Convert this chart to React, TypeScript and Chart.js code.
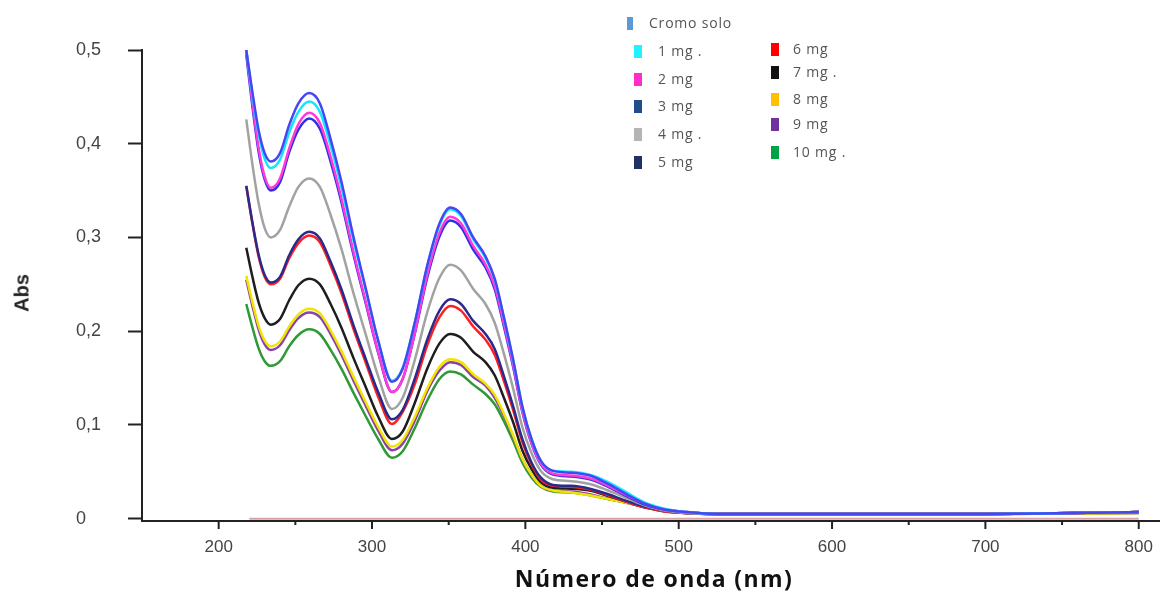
import React, { useEffect, useRef } from "react";
import { Chart, registerables } from "chart.js";

Chart.register(...registerables);

// Wavelength (nm) at which every series is sampled
const WAVELENGTHS = [218, 222, 226, 230, 234, 240, 246, 252, 259, 266, 273, 280, 288, 296, 304, 313, 320, 328, 336, 344, 351, 358, 366, 374, 380, 386, 392, 398, 404, 410, 418, 430, 442, 454, 466, 478, 490, 505, 525, 600, 700, 800];

const SERIES_LABELS = ["Cromo solo", "1 mg .", "2 mg", "3 mg", "4 mg .", "5 mg", "6 mg", "7 mg .", "8 mg", "9 mg", "10 mg ."];

const CROMO_SOLO = [0.500, 0.455, 0.415, 0.390, 0.381, 0.390, 0.420, 0.443, 0.454, 0.443, 0.405, 0.360, 0.300, 0.245, 0.190, 0.146, 0.160, 0.210, 0.270, 0.315, 0.332, 0.325, 0.300, 0.280, 0.256, 0.215, 0.170, 0.120, 0.085, 0.062, 0.051, 0.049, 0.046, 0.037, 0.026, 0.016, 0.010, 0.007, 0.005, 0.005, 0.005, 0.007];
const MG_1 = [0.500, 0.452, 0.411, 0.384, 0.374, 0.383, 0.412, 0.434, 0.445, 0.434, 0.398, 0.354, 0.296, 0.243, 0.190, 0.147, 0.161, 0.210, 0.269, 0.313, 0.330, 0.323, 0.298, 0.278, 0.255, 0.214, 0.169, 0.120, 0.085, 0.062, 0.051, 0.050, 0.047, 0.039, 0.028, 0.017, 0.011, 0.007, 0.005, 0.005, 0.005, 0.007];
const MG_2 = [0.500, 0.444, 0.396, 0.365, 0.353, 0.363, 0.395, 0.421, 0.433, 0.422, 0.386, 0.342, 0.284, 0.231, 0.178, 0.135, 0.149, 0.199, 0.260, 0.305, 0.322, 0.315, 0.291, 0.271, 0.248, 0.208, 0.164, 0.115, 0.081, 0.059, 0.048, 0.046, 0.043, 0.035, 0.025, 0.016, 0.010, 0.007, 0.005, 0.005, 0.005, 0.007];
const MG_3 = [0.495, 0.440, 0.392, 0.362, 0.350, 0.359, 0.391, 0.415, 0.427, 0.416, 0.381, 0.338, 0.281, 0.229, 0.177, 0.135, 0.149, 0.198, 0.257, 0.301, 0.318, 0.311, 0.287, 0.268, 0.245, 0.205, 0.162, 0.114, 0.080, 0.058, 0.047, 0.045, 0.042, 0.034, 0.024, 0.015, 0.010, 0.007, 0.005, 0.005, 0.005, 0.007];
const MG_4 = [0.426, 0.378, 0.337, 0.310, 0.300, 0.308, 0.333, 0.354, 0.363, 0.354, 0.324, 0.288, 0.240, 0.196, 0.152, 0.117, 0.129, 0.170, 0.220, 0.257, 0.271, 0.265, 0.245, 0.229, 0.209, 0.176, 0.139, 0.098, 0.070, 0.051, 0.042, 0.040, 0.037, 0.030, 0.022, 0.014, 0.009, 0.006, 0.005, 0.005, 0.005, 0.007];
const MG_5 = [0.355, 0.316, 0.282, 0.260, 0.252, 0.258, 0.281, 0.298, 0.306, 0.299, 0.274, 0.245, 0.206, 0.170, 0.135, 0.106, 0.116, 0.150, 0.191, 0.222, 0.234, 0.229, 0.211, 0.197, 0.181, 0.152, 0.120, 0.085, 0.060, 0.044, 0.036, 0.035, 0.032, 0.026, 0.019, 0.013, 0.009, 0.006, 0.005, 0.005, 0.005, 0.007];
const MG_6 = [0.355, 0.315, 0.280, 0.258, 0.250, 0.256, 0.278, 0.294, 0.302, 0.295, 0.270, 0.241, 0.202, 0.166, 0.130, 0.101, 0.114, 0.144, 0.185, 0.215, 0.227, 0.222, 0.205, 0.191, 0.175, 0.147, 0.116, 0.082, 0.058, 0.042, 0.035, 0.034, 0.031, 0.025, 0.018, 0.012, 0.008, 0.006, 0.005, 0.005, 0.005, 0.007];
const MG_7 = [0.289, 0.258, 0.231, 0.214, 0.207, 0.213, 0.233, 0.249, 0.256, 0.250, 0.229, 0.204, 0.171, 0.140, 0.109, 0.085, 0.093, 0.124, 0.160, 0.187, 0.197, 0.193, 0.178, 0.167, 0.153, 0.129, 0.103, 0.073, 0.053, 0.039, 0.033, 0.032, 0.030, 0.024, 0.018, 0.012, 0.008, 0.006, 0.005, 0.005, 0.005, 0.007];
const MG_8 = [0.259, 0.231, 0.206, 0.190, 0.184, 0.189, 0.205, 0.218, 0.224, 0.219, 0.201, 0.179, 0.151, 0.124, 0.098, 0.077, 0.084, 0.109, 0.139, 0.162, 0.170, 0.167, 0.154, 0.144, 0.132, 0.112, 0.089, 0.064, 0.047, 0.035, 0.030, 0.028, 0.025, 0.021, 0.017, 0.013, 0.009, 0.006, 0.005, 0.005, 0.005, 0.006];
const MG_9 = [0.255, 0.227, 0.202, 0.186, 0.180, 0.185, 0.201, 0.214, 0.220, 0.215, 0.197, 0.175, 0.147, 0.120, 0.094, 0.073, 0.080, 0.105, 0.136, 0.158, 0.167, 0.164, 0.151, 0.142, 0.129, 0.110, 0.088, 0.064, 0.047, 0.035, 0.030, 0.029, 0.026, 0.021, 0.017, 0.012, 0.009, 0.006, 0.005, 0.005, 0.005, 0.006];
const MG_10 = [0.229, 0.204, 0.182, 0.168, 0.163, 0.168, 0.184, 0.196, 0.202, 0.197, 0.180, 0.160, 0.134, 0.109, 0.085, 0.065, 0.072, 0.097, 0.126, 0.149, 0.157, 0.154, 0.143, 0.133, 0.122, 0.104, 0.083, 0.060, 0.044, 0.034, 0.029, 0.028, 0.025, 0.021, 0.017, 0.013, 0.009, 0.006, 0.005, 0.005, 0.005, 0.006];

const LINE_COLORS = ["#4646f2", "#14e6ff", "#ff3ad8", "#2f2fe6", "#a2a2a2", "#2a2a8c", "#ff1f1f", "#1e1e1e", "#f0e400", "#8b42a6", "#2f9a35"];
const LEGEND_COLORS = ["#5b9bd5", "#1ef2ff", "#ff2ecb", "#1f4e8a", "#b4b4b4", "#1f3263", "#ff0000", "#111111", "#ffc000", "#7030a0", "#00a444"];

// baseline trace along zero
const BASELINE_X = [220, 800];
const BASELINE_Y = [0, 0];

const Y_TICKS = [0, 0.1, 0.2, 0.3, 0.4, 0.5];
const X_TICKS = [200, 250, 300, 350, 400, 450, 500, 550, 600, 650, 700, 750, 800];

const X_TITLE = "Número de onda (nm)";
const Y_TITLE = "Abs";

// legend layout (swatch x, center y, text x)
const LEGEND_LAYOUT = [
  { sx: 627, cy: 23, tx: 649, w: 6 },
  { sx: 634, cy: 51, tx: 658, w: 8 },
  { sx: 634, cy: 79, tx: 658, w: 8 },
  { sx: 634, cy: 106, tx: 658, w: 8 },
  { sx: 634, cy: 134, tx: 658, w: 8 },
  { sx: 634, cy: 162, tx: 658, w: 8 },
  { sx: 771, cy: 49, tx: 793, w: 8 },
  { sx: 771, cy: 72, tx: 793, w: 8 },
  { sx: 771, cy: 99, tx: 793, w: 8 },
  { sx: 771, cy: 124, tx: 793, w: 8 },
  { sx: 771, cy: 152, tx: 793, w: 8 },
];

export default function App() {
  const ref = useRef<HTMLCanvasElement>(null);

  useEffect(() => {
    document.body.style.margin = "0";
    const series = [CROMO_SOLO, MG_1, MG_2, MG_3, MG_4, MG_5, MG_6, MG_7, MG_8, MG_9, MG_10];
    const datasets: any[] = series.map((vals, i) => ({
      label: SERIES_LABELS[i],
      data: vals.map((v, j) => ({ x: WAVELENGTHS[j], y: v })),
      borderColor: LINE_COLORS[i],
      backgroundColor: LINE_COLORS[i],
      borderWidth: 2.5,
      pointRadius: 0,
      cubicInterpolationMode: "monotone",
      fill: false,
    }));
    datasets.push({
      label: "base",
      data: BASELINE_X.map((x, j) => ({ x, y: BASELINE_Y[j] })),
      borderColor: "#d9a2a8",
      borderWidth: 2,
      pointRadius: 0,
      clip: false,
    });

    const xTickPlugin = {
      id: "xTickMarks",
      afterDraw(chart: any) {
        const xs = chart.scales.x;
        const ctx = chart.ctx;
        const y0 = chart.chartArea.bottom;
        ctx.save();
        ctx.strokeStyle = "#222";
        ctx.lineWidth = 2;
        X_TICKS.forEach((v) => {
          const px = xs.getPixelForValue(v);
          const len = v % 100 === 0 ? 8 : 4;
          ctx.beginPath();
          ctx.moveTo(px, y0);
          ctx.lineTo(px, y0 + len);
          ctx.stroke();
        });
        ctx.restore();
      },
    };

    const chart = new Chart(ref.current as HTMLCanvasElement, {
      type: "line",
      data: { datasets },
      options: {
        animation: false,
        responsive: false,
        maintainAspectRatio: false,
        layout: { padding: { left: 76, top: 50, right: 4, bottom: 0 } },
        plugins: { legend: { display: false }, tooltip: { enabled: false } },
        scales: {
          x: {
            type: "linear",
            min: 150,
            max: 813.5,
            afterBuildTicks: (s: any) => {
              s.ticks = X_TICKS.map((v) => ({ value: v }));
            },
            afterFit: (s: any) => {
              s.height = 72;
            },
            grid: { drawOnChartArea: false, drawTicks: false },
            border: { color: "#222", width: 2 },
            ticks: {
              autoSkip: false,
              maxRotation: 0,
              padding: 16,
              color: "#444",
              font: { family: "Liberation Sans", size: 17 },
              callback: (v: any) => (Number(v) % 100 === 0 ? String(v) : ""),
            },
          },
          y: {
            min: -0.0025,
            max: 0.5,
            afterBuildTicks: (s: any) => {
              s.ticks = Y_TICKS.map((v) => ({ value: v }));
            },
            afterFit: (s: any) => {
              s.width = 66;
            },
            grid: { drawOnChartArea: false, tickLength: 14, tickWidth: 2, tickColor: "#222" },
            border: { color: "#222", width: 2 },
            ticks: {
              crossAlign: "far",
              color: "#444",
              font: { family: "Liberation Sans", size: 18 },
              callback: (v: any) => (Number(v) === 0 ? "0" : Number(v).toFixed(1).replace(".", ",")),
            },
          },
        },
      } as any,
      plugins: [xTickPlugin],
    });
    return () => chart.destroy();
  }, []);

  return (
    <div style={{ position: "relative", width: 1169, height: 593, background: "#fff", overflow: "hidden" }}>
      <canvas ref={ref} width={1169} height={593} style={{ position: "absolute", left: 0, top: 0, display: "block" }} />
      {SERIES_LABELS.map((label, i) => {
        const p = LEGEND_LAYOUT[i];
        return (
          <React.Fragment key={label}>
            <div style={{ position: "absolute", left: p.sx, top: p.cy - 6.5, width: p.w, height: 13, background: LEGEND_COLORS[i] }} />
            <div
              style={{
                position: "absolute",
                left: p.tx,
                top: p.cy - 10,
                height: 20,
                lineHeight: "20px",
                fontFamily: "'Open Sans', sans-serif",
                fontSize: 14,
                letterSpacing: 0.8,
                color: "#555",
                whiteSpace: "nowrap",
              }}
            >
              {label}
            </div>
          </React.Fragment>
        );
      })}
      <div
        style={{
          position: "absolute",
          left: 22,
          top: 293,
          transform: "translate(-50%, -50%) rotate(-90deg)",
          fontFamily: "'Liberation Sans', Arial, sans-serif",
          fontWeight: 700,
          fontSize: 20,
          color: "#222",
          whiteSpace: "nowrap",
        }}
      >
        {Y_TITLE}
      </div>
      <div
        style={{
          position: "absolute",
          left: 654,
          top: 578,
          transform: "translate(-50%, -50%)",
          fontFamily: "'Open Sans', sans-serif",
          fontWeight: 700,
          fontSize: 23,
          letterSpacing: 1.4,
          color: "#111",
          whiteSpace: "nowrap",
        }}
      >
        {X_TITLE}
      </div>
    </div>
  );
}
